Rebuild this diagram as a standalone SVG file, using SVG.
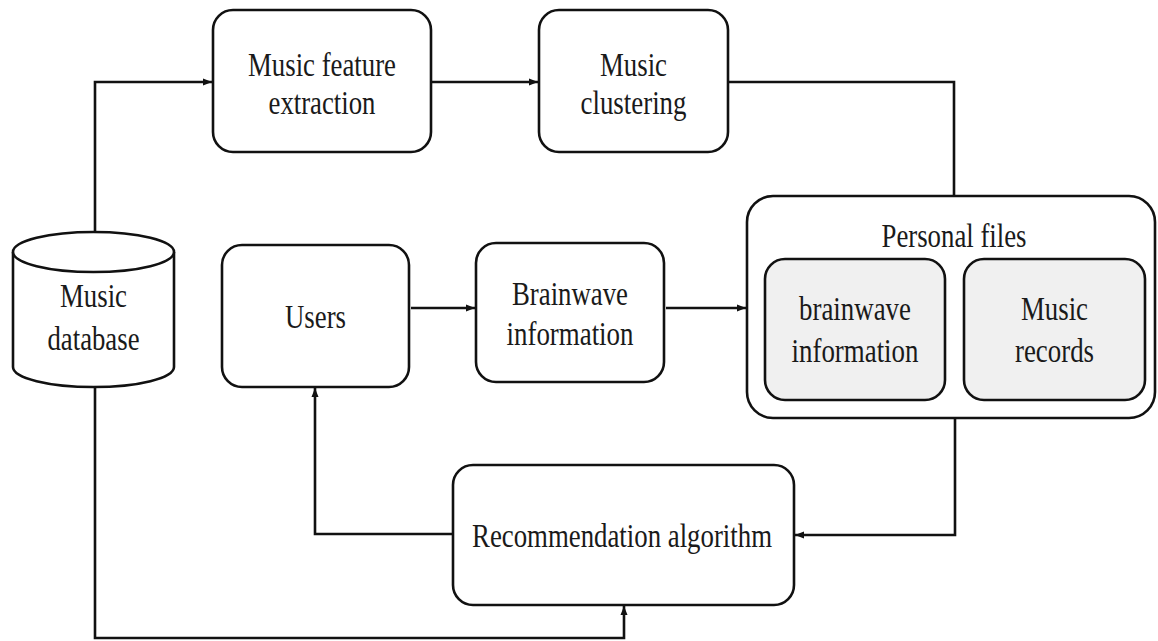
<svg xmlns="http://www.w3.org/2000/svg" width="1158" height="641" viewBox="0 0 1158 641">
<style>
.box{fill:#fff;stroke:#111;stroke-width:2.6}
.inner{fill:#f0f0f0;stroke:#111;stroke-width:2.6}
.lbl{font-family:"Liberation Serif","DejaVu Serif","Times New Roman",serif;font-size:33px;fill:#1a1a1a;text-anchor:middle}
.conn{fill:none;stroke:#111;stroke-width:2.6}
</style>
<defs>
<marker id="arr" markerWidth="10" markerHeight="8" refX="9" refY="4" orient="auto" markerUnits="userSpaceOnUse">
<path d="M0,0.5 L9,4 L0,7.5 Z" fill="#111"/>
</marker>
</defs>
<rect width="1158" height="641" fill="#fff"/>

<g id="connectors">
<path class="conn" d="M95,232 V82 H212" marker-end="url(#arr)"/>
<path class="conn" d="M431,82 H538" marker-end="url(#arr)"/>
<path class="conn" d="M728,82 H954 V196"/>
<path class="conn" d="M411,308 H475" marker-end="url(#arr)"/>
<path class="conn" d="M666,308 H746" marker-end="url(#arr)"/>
<path class="conn" d="M955,418 V535 H795" marker-end="url(#arr)"/>
<path class="conn" d="M453,534 H315 V388" marker-end="url(#arr)"/>
<path class="conn" d="M95,387 V638 H624 V606" marker-end="url(#arr)"/>
</g>

<g id="music-database">
<path class="box" d="M13,252 V367 A80.5,20 0 0 0 174,367 V252"/>
<ellipse class="box" cx="93.5" cy="252" rx="80.5" ry="20"/>
<text class="lbl" x="93.5" y="307" textLength="67" lengthAdjust="spacingAndGlyphs">Music</text>
<text class="lbl" x="93.5" y="350" textLength="92" lengthAdjust="spacingAndGlyphs">database</text>
</g>

<g id="music-feature-extraction">
<rect class="box" x="213" y="10" width="218" height="142" rx="20"/>
<text class="lbl" x="322" y="76" textLength="148" lengthAdjust="spacingAndGlyphs">Music feature</text>
<text class="lbl" x="322" y="114" textLength="107" lengthAdjust="spacingAndGlyphs">extraction</text>
</g>

<g id="music-clustering">
<rect class="box" x="539" y="10" width="189" height="142" rx="20"/>
<text class="lbl" x="633.5" y="76" textLength="67" lengthAdjust="spacingAndGlyphs">Music</text>
<text class="lbl" x="633.5" y="114" textLength="106" lengthAdjust="spacingAndGlyphs">clustering</text>
</g>

<g id="users">
<rect class="box" x="222" y="245" width="187" height="142" rx="20"/>
<text class="lbl" x="315.5" y="328" textLength="61" lengthAdjust="spacingAndGlyphs">Users</text>
</g>

<g id="brainwave-information">
<rect class="box" x="476" y="243" width="188" height="139" rx="20"/>
<text class="lbl" x="570" y="305" textLength="116" lengthAdjust="spacingAndGlyphs">Brainwave</text>
<text class="lbl" x="570" y="345" textLength="127" lengthAdjust="spacingAndGlyphs">information</text>
</g>

<g id="personal-files">
<rect class="box" x="747" y="196" width="408" height="222" rx="26"/>
<text class="lbl" x="954" y="247" textLength="145" lengthAdjust="spacingAndGlyphs">Personal files</text>
<g id="pf-brainwave">
<rect class="inner" x="765" y="259" width="180" height="141" rx="20"/>
<text class="lbl" x="855" y="320" textLength="112" lengthAdjust="spacingAndGlyphs">brainwave</text>
<text class="lbl" x="855" y="362" textLength="127" lengthAdjust="spacingAndGlyphs">information</text>
</g>
<g id="pf-music-records">
<rect class="inner" x="964" y="259" width="181" height="141" rx="20"/>
<text class="lbl" x="1054.5" y="320" textLength="67" lengthAdjust="spacingAndGlyphs">Music</text>
<text class="lbl" x="1054.5" y="362" textLength="79" lengthAdjust="spacingAndGlyphs">records</text>
</g>
</g>

<g id="recommendation-algorithm">
<rect class="box" x="453" y="465" width="341" height="140" rx="20"/>
<text class="lbl" x="622" y="547" textLength="300" lengthAdjust="spacingAndGlyphs">Recommendation algorithm</text>
</g>
</svg>
